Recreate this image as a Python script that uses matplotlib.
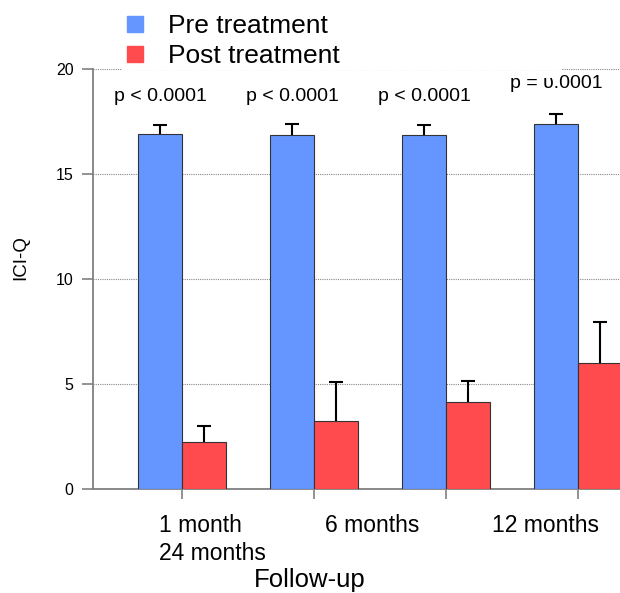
import matplotlib
matplotlib.use('Agg')
import matplotlib.pyplot as plt
import numpy as np
from matplotlib.lines import Line2D

plt.rcParams['font.family'] = ['Liberation Sans', 'DejaVu Sans']

groups = ['1 month', '6 months', '12 months', '24 months']
pre_mean = [16.9, 16.85, 16.85, 17.38]
pre_err = [0.45, 0.52, 0.48, 0.48]
post_mean = [2.25, 3.25, 4.12, 6.0]
post_err = [0.77, 1.85, 1.02, 1.95]
p_text = ['p < 0.0001', 'p < 0.0001', 'p < 0.0001', 'p = \u03c5.0001']
p_y = [18.7, 18.7, 18.7, 19.33]
tick_text = ['1 month\n24 months', '6 months', '12 months']
tick_pos = [0.227, 1.44, 2.75]

blue = '#6596ff'
red = '#ff4b4e'
grey = '#808080'

fig = plt.figure(figsize=(6.2, 5.93), dpi=100)
ax = fig.add_axes([0.15, 0.1754, 0.85, 0.7082])

x = np.arange(len(groups))
w = 0.333
ekw = dict(ecolor='black', elinewidth=1.5, capsize=5, capthick=1.5)
b1 = ax.bar(x - w / 2, pre_mean, w, color=blue, edgecolor='#333333', linewidth=0.8,
            yerr=[np.zeros(4), pre_err], error_kw=ekw, zorder=3)
b2 = ax.bar(x + w / 2, post_mean, w, color=red, edgecolor='#333333', linewidth=0.8,
            yerr=[np.zeros(4), post_err], error_kw=ekw, zorder=3)
# only the upper caps
for b in (b1, b2):
    b.errorbar.lines[1][0].remove()

for xi, t, yy in zip(x, p_text, p_y):
    ax.text(xi - w / 2, yy, t, ha='center', va='center', fontsize=14, zorder=5)

ax.set_xlim(-0.674, 3.318)
ax.set_ylim(0, 20)
ax.set_yticks([0, 5, 10, 15, 20])
ax.tick_params(axis='y', length=8, width=1.2, color=grey, labelsize=11.5, pad=6)
ax.yaxis.grid(True, linestyle=(0, (1, 1)), color='#888888', linewidth=0.8, zorder=0)
ax.set_axisbelow(True)

ax.set_xticks(x)
ax.set_xticklabels([])
ax.tick_params(axis='x', which='major', length=7, width=1.2, color=grey)
ax.set_xticks(tick_pos, minor=True)
ax.set_xticklabels(tick_text, minor=True, fontsize=16.5, ma='left', linespacing=1.3)
ax.tick_params(axis='x', which='minor', length=0, pad=18)

for s in ['top', 'right']:
    ax.spines[s].set_visible(False)
for s in ['left', 'bottom']:
    ax.spines[s].set_color(grey)
    ax.spines[s].set_linewidth(1.3)

ax.set_ylabel('ICI-Q', fontsize=13.5, labelpad=19, y=0.55)
ax.set_xlabel('Follow-up', fontsize=18.5, x=0.412, labelpad=2)

handles = [Line2D([], [], ls='none', marker='s', markersize=11, color=blue),
           Line2D([], [], ls='none', marker='s', markersize=11, color=red)]
leg = fig.legend(handles, ['Pre treatment', 'Post treatment'], loc='upper left',
                 bbox_to_anchor=(0.196, 0.98, 0.71, 0.0), mode='expand',
                 fontsize=19, frameon=True, fancybox=False, edgecolor='none',
                 facecolor='white', framealpha=1, handlelength=0.8,
                 handletextpad=0.85, labelspacing=0.2, borderpad=0.1,
                 borderaxespad=0.0)
leg.set_zorder(10)

fig.savefig('out.png', dpi=100)
